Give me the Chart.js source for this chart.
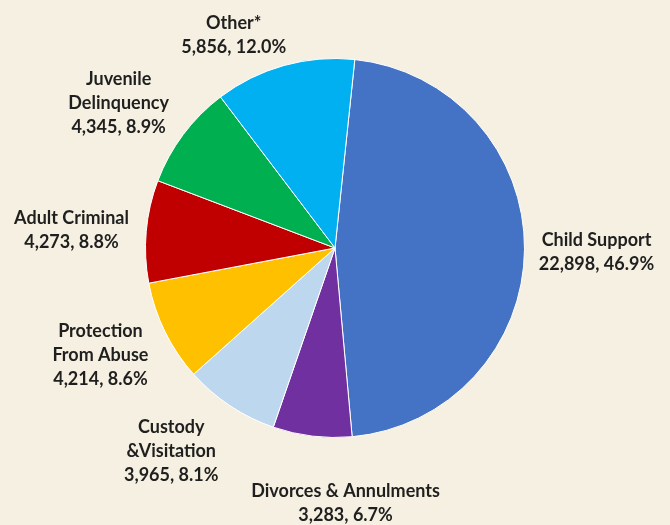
<!DOCTYPE html>
<html>
<head>
<meta charset="utf-8">
<script src="https://cdn.jsdelivr.net/npm/chart.js@4"></script>
<style>
  html, body { margin: 0; padding: 0; background: #f5f0e1; }
  canvas { display: block; }
</style>
</head>
<body>
<canvas id="chart-cases" width="670" height="525"></canvas>
<script>
// Case categories (multi-line where the label wraps) and filings per category
const categories = [
    ['Child Support'],
    ['Divorces & Annulments'],
    ['Custody', '&Visitation'],
    ['Protection', 'From Abuse'],
    ['Adult Criminal'],
    ['Juvenile', 'Delinquency'],
    ['Other*']
];
const caseCounts = [22898, 3283, 3965, 4214, 4273, 4345, 5856];
const sliceColors = ['#4472c4', '#7030a0', '#bdd7ee', '#ffc000', '#c00000', '#00b050', '#00b0f0'];

// Outside labels: pushed out along each slice's middle, then nudged a bit
const labelNudge = [[0, 2], [42, -4], [-19, -15], [0, -8], [-3, 5], [-7, 12], [-31, 39]];

const outsideLabels = {
    id: 'outsideLabels',
    afterDatasetsDraw(chart) {
        const ctx = chart.ctx;
        const data = chart.data.datasets[0].data;
        const total = data.reduce((a, b) => a + b, 0);
        ctx.save();
        ctx.font = 'bold 18px Lato';
        ctx.fillStyle = '#1f1f1f';
        ctx.textAlign = 'center';
        ctx.textBaseline = 'middle';
        chart.getDatasetMeta(0).data.forEach((arc, i) => {
            const p = arc.getProps(['x', 'y', 'startAngle', 'endAngle', 'outerRadius'], true);
            const mid = (p.startAngle + p.endAngle) / 2;
            const cx = p.x + Math.cos(mid) * p.outerRadius * 1.38 + labelNudge[i][0];
            const cy = p.y + Math.sin(mid) * p.outerRadius * 1.38 + labelNudge[i][1];
            const v = data[i];
            const lines = categories[i].concat(
                v.toLocaleString('en-US') + ', ' + (v / total * 100).toFixed(1) + '%');
            lines.forEach((t, j) => {
                ctx.fillText(t, cx, cy + (j - (lines.length - 1) / 2) * 24);
            });
        });
        ctx.restore();
    }
};

const ctx = document.getElementById('chart-cases').getContext('2d');
new Chart(ctx, {
    type: 'pie',
    data: {
        labels: categories,
        datasets: [{
            data: caseCounts,
            backgroundColor: sliceColors,
            borderColor: '#ffffff',
            borderWidth: 1
        }]
    },
    options: {
        responsive: false,
        animation: false,
        rotation: 6,
        layout: { padding: { top: 58, bottom: 87, left: 145, right: 145 } },
        plugins: { legend: { display: false }, tooltip: { enabled: false } }
    },
    plugins: [outsideLabels]
});
</script>
</body>
</html>
